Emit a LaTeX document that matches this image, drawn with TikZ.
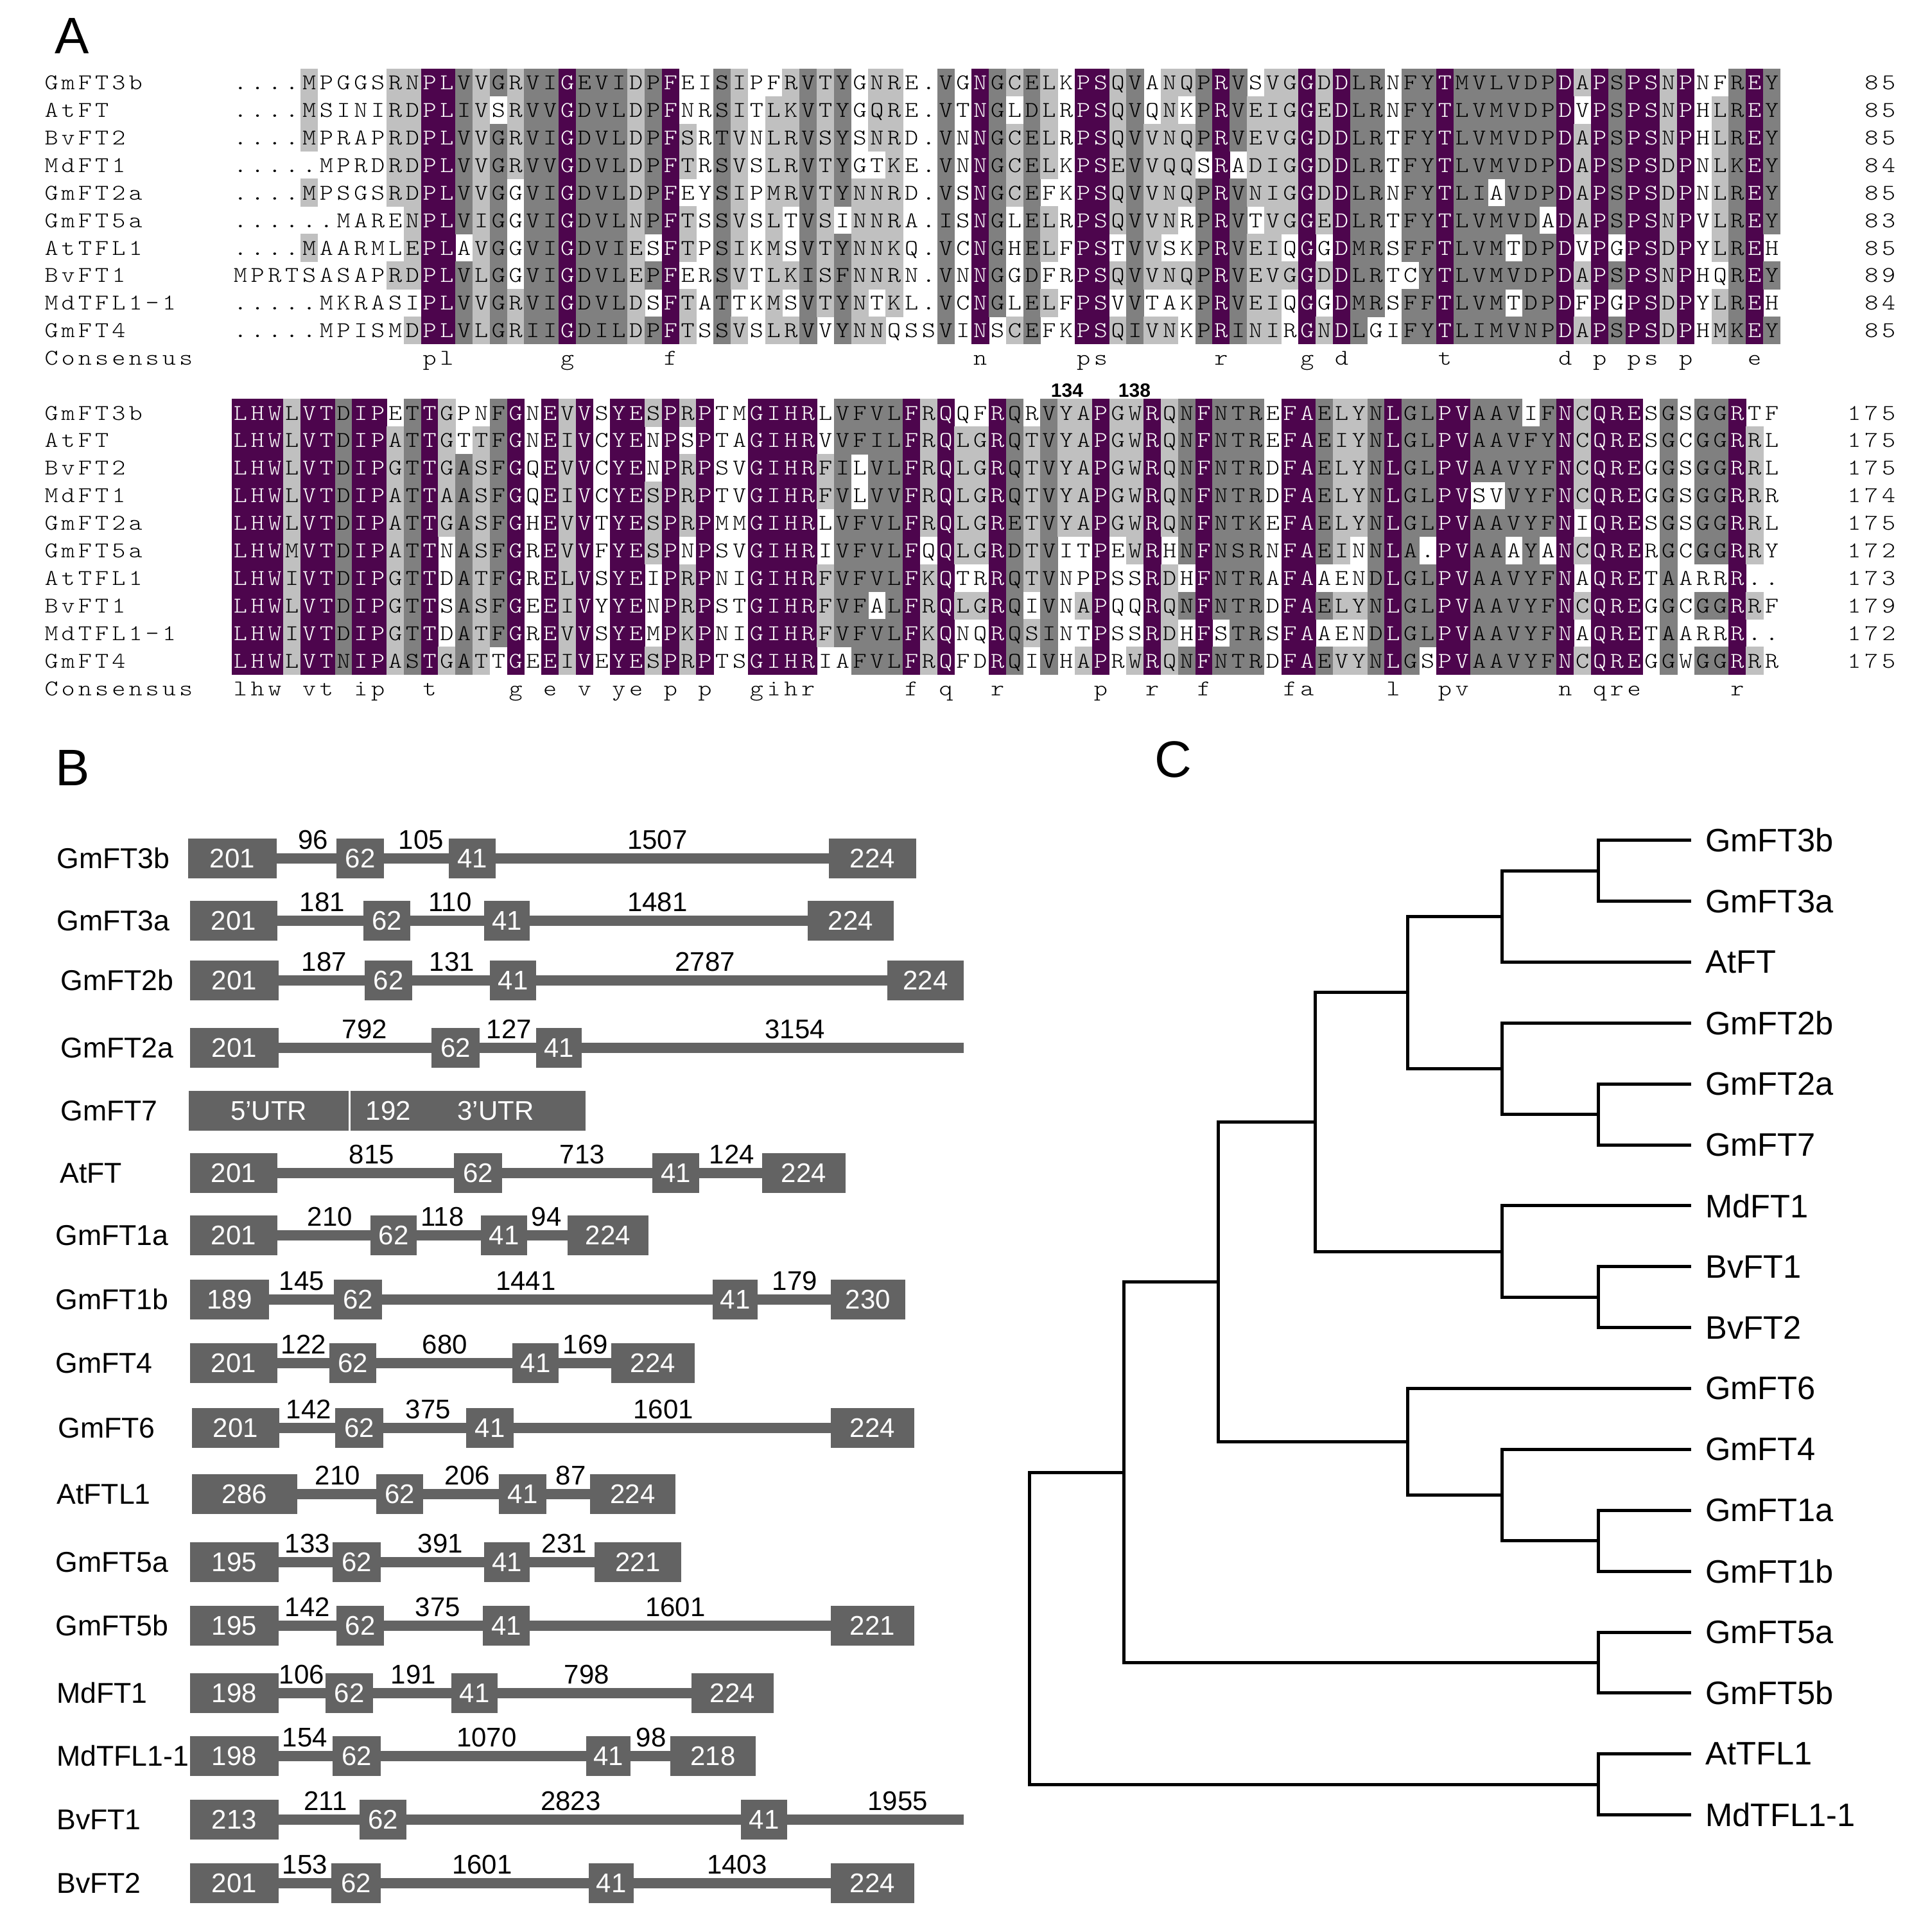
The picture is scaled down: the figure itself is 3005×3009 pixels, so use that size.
\documentclass[tikz,border=0pt]{standalone}
\usepackage{fontspec}
\setmainfont{Liberation Sans}
\newfontfamily\alfontfam{lmmonolt10-regular.otf}[FakeStretch=1.15]
\definecolor{alc3}{RGB}{77,5,77}
\definecolor{alc2}{RGB}{128,128,128}
\definecolor{alc1}{RGB}{192,192,192}
\definecolor{genegray}{RGB}{99,99,99}
\newlength\alcw \setlength\alcw{13.4pt}
\newlength\alnw \setlength\alnw{13.1pt}
\newcommand\alch[2]{\makebox[\alcw][c]{\textcolor{#1}{#2}}}
\newcommand\alcell[5]{\fill[#1] (#2,#3) rectangle ++(#4,#5);}
\tikzset{
  alseq/.style={anchor=base west, inner sep=0pt, outer sep=0pt, font=\alfontfam\fontsize{17.5}{17.5}\selectfont},
  alname/.style={alseq},
  alnum/.style={anchor=base east, inner sep=0pt, outer sep=0pt, font=\alfontfam\fontsize{17.5}{17.5}\selectfont},
  panel/.style={anchor=base west, inner sep=0pt, font=\fontsize{40}{40}\selectfont},
  posl/.style={anchor=base, inner sep=0pt, font=\bfseries\fontsize{15}{15}\selectfont},
  exon/.style={fill=genegray, inner sep=0pt, outer sep=0pt, minimum height=31pt, text=white, font=\fontsize{21}{21}\selectfont},
  glab/.style={inner sep=0pt, text=white, font=\fontsize{21}{21}\selectfont},
  intron/.style={draw=genegray, line width=8pt},
  ilab/.style={anchor=base, inner sep=0pt, yshift=7.5pt, font=\fontsize{21}{21}\selectfont},
  gname/.style={anchor=west, inner sep=0pt, font=\fontsize{22.3}{22.3}\selectfont},
  tree/.style={draw=black, line width=2.5pt},
  tname/.style={anchor=west, inner sep=0pt, font=\fontsize{25.3}{25.3}\selectfont},
}
\newcommand\exon[5]{\node[exon, minimum width={(#3-#2)*0.5pt}] (#1) at ({(#2+#3)/2},#4) {#5};}
\newcommand\intron[5]{\draw[intron] (#1.east) -- (#2.west); \node[ilab] (#1lab) at (#4,#5) {#3};}

\ExplSyntaxOn
\seq_new:N \l_al_rows_seq
\int_new:N \l_al_nrows_int
\int_new:N \l_al_ncols_int
\int_new:N \l_al_col_int
\int_new:N \l_al_cnt_int
\int_new:N \l_al_best_int
\int_new:N \l_al_lev_int
\int_new:N \l_al_r_int
\tl_new:N \l_al_a_tl
\tl_new:N \l_al_b_tl
\tl_new:N \l_al_bestch_tl
\tl_new:N \l_al_bestkey_tl
\tl_new:N \l_al_cons_tl
\tl_new:N \l_al_sp_tl
\str_new:N \l_al_first_str
\bool_new:N \l_al_shade_bool
\int_step_inline:nn {12}
  {
    \str_new:c { l_al_s_#1_str }
    \tl_new:c { l_al_c_#1_tl }
    \tl_new:c { l_al_k_#1_tl }
    \tl_new:c { l_al_t_#1_tl }
  }
\cs_new:Npn \al_key:n #1
  {
    \str_case:nnF {#1}
      {
        {I}{I} {L}{I} {V}{I} {M}{I}
        {F}{F} {Y}{F} {W}{F}
        {K}{K} {R}{K} {H}{K}
        {D}{D} {E}{D} {N}{D} {Q}{D}
        {S}{S} {T}{S}
        {A}{A} {G}{A}
      }
      {#1}
  }
\cs_new_protected:Npn \al_column:nnn #1#2#3
  {
    \int_step_inline:nn { \l_al_nrows_int }
      {
        \tl_set:cx { l_al_c_##1_tl }
          { \exp_args:Nc \str_item:Nn { l_al_s_##1_str } { \int_use:N \l_al_col_int } }
        \tl_set_eq:Nc \l_al_a_tl { l_al_c_##1_tl }
        \tl_set:cx { l_al_k_##1_tl } { \exp_args:NV \al_key:n \l_al_a_tl }
      }
    \int_zero:N \l_al_best_int
    \tl_clear:N \l_al_bestch_tl
    \tl_clear:N \l_al_bestkey_tl
    \int_step_inline:nn { \l_al_nrows_int }
      {
        \tl_set_eq:Nc \l_al_a_tl { l_al_c_##1_tl }
        \str_if_eq:VnF \l_al_a_tl { . }
          {
            \int_zero:N \l_al_cnt_int
            \int_step_inline:nn { \l_al_nrows_int }
              {
                \tl_set_eq:Nc \l_al_b_tl { l_al_c_####1_tl }
                \str_if_eq:VVT \l_al_a_tl \l_al_b_tl { \int_incr:N \l_al_cnt_int }
              }
            \int_compare:nNnT { \l_al_cnt_int } > { \l_al_best_int }
              {
                \int_set_eq:NN \l_al_best_int \l_al_cnt_int
                \tl_set_eq:NN \l_al_bestch_tl \l_al_a_tl
                \tl_set_eq:Nc \l_al_bestkey_tl { l_al_k_##1_tl }
              }
          }
      }
    \int_compare:nNnTF { \l_al_best_int } = { \l_al_nrows_int }
      { \int_set:Nn \l_al_lev_int { 3 } }
      {
        \int_compare:nNnTF { \l_al_best_int } > { 7 }
          { \int_set:Nn \l_al_lev_int { 2 } }
          {
            \int_compare:nNnTF { \l_al_best_int } > { 4 }
              { \int_set:Nn \l_al_lev_int { 1 } }
              { \int_set:Nn \l_al_lev_int { 0 } }
          }
      }
    \int_step_inline:nn { \l_al_nrows_int }
      {
        \bool_set_false:N \l_al_shade_bool
        \int_compare:nNnT { \l_al_lev_int } > { 0 }
          {
            \tl_set_eq:Nc \l_al_b_tl { l_al_k_##1_tl }
            \str_if_eq:VVT \l_al_b_tl \l_al_bestkey_tl
              { \bool_set_true:N \l_al_shade_bool }
          }
        \tl_set_eq:Nc \l_al_a_tl { l_al_c_##1_tl }
        \bool_if:NTF \l_al_shade_bool
          {
            \use:e
              {
                \exp_not:N \alcell { alc \int_use:N \l_al_lev_int }
                  { \fp_eval:n { #1 + ( \int_use:N \l_al_col_int - 1 ) * 26.8 - 0.3 } }
                  { \fp_eval:n { #2 - #3 / 2 + ( ##1 - 1 ) * #3 - 0.3 } }
                  { 27.4 } { \fp_eval:n { #3 + 0.6 } }
              }
            \int_compare:nNnTF { \l_al_lev_int } = { 3 }
              { \tl_put_right:cx { l_al_t_##1_tl } { \exp_not:N \alch { white } { \exp_not:V \l_al_a_tl } } }
              { \tl_put_right:cx { l_al_t_##1_tl } { \exp_not:N \alch { black } { \exp_not:V \l_al_a_tl } } }
          }
          {
            \tl_put_right:cx { l_al_t_##1_tl } { \exp_not:N \alch { black } { \exp_not:V \l_al_a_tl } }
          }
      }
    \int_compare:nNnTF { \l_al_lev_int } = { 3 }
      {
        \tl_put_right:Nx \l_al_cons_tl
          { \exp_not:N \alch { black } { \str_lowercase:f { \l_al_bestch_tl } } }
      }
      { \tl_put_right:Nn \l_al_cons_tl { \alch { black } { } } }
  }
\cs_new_protected:Npn \al_block:nnnnn #1#2#3#4#5
  {
    \seq_set_from_clist:Nn \l_al_rows_seq {#5}
    \int_set:Nn \l_al_nrows_int { \seq_count:N \l_al_rows_seq }
    \int_zero:N \l_al_r_int
    \seq_map_inline:Nn \l_al_rows_seq
      {
        \int_incr:N \l_al_r_int
        \str_set:cn { l_al_s_ \int_use:N \l_al_r_int _str } {##1}
        \tl_clear:c { l_al_t_ \int_use:N \l_al_r_int _tl }
      }
    \str_set:Nx \l_al_first_str { \seq_item:Nn \l_al_rows_seq {1} }
    \int_set:Nn \l_al_ncols_int { \str_count:N \l_al_first_str }
    \tl_clear:N \l_al_cons_tl
    \int_step_inline:nn { \l_al_ncols_int }
      {
        \int_set:Nn \l_al_col_int {##1}
        \al_column:nnn {#2} {#3} {#4}
      }
    \int_step_inline:nn { \l_al_nrows_int }
      {
        \use:e
          {
            \exp_not:N \node [ alseq ] ( #1r##1 ) at
              ( #2 , \fp_eval:n { #3 + ( ##1 - 1 ) * #4 + 11 } )
              { \exp_not:v { l_al_t_##1_tl } } ;
          }
      }
    \use:e
      {
        \exp_not:N \node [ alseq ] ( #1cons ) at
          ( #2 , \fp_eval:n { #3 + \int_use:N \l_al_nrows_int * #4 + 11 } )
          { \exp_not:V \l_al_cons_tl } ;
      }
  }
\NewDocumentCommand \AlBlock { m m m m m } { \al_block:nnnnn {#1} {#2} {#3} {#4} {#5} }
\NewDocumentCommand \AlSpaced { m m }
  {
    \tl_set:Nx \l_al_sp_tl {#2}
    \tl_map_inline:Nn \l_al_sp_tl { \makebox [#1] [c] {##1} }
  }
\ExplSyntaxOff

\begin{document}
\begin{tikzpicture}[x=0.5pt,y=-0.5pt]
\useasboundingbox (0,0) rectangle (3005,3009);
\fill[white] (0,0) rectangle (3005,3009);

% ---------------- Panel A ----------------
\node[panel] (pA) at (85,83) {A};
\AlBlock{A}{361}{128.6}{42.9}{
....MPGGSRNPLVVGRVIGEVIDPFEISIPFRVTYGNRE.VGNGCELKPSQVANQPRVSVGGDDLRNFYTMVLVDPDAPSPSNPNFREY,
....MSINIRDPLIVSRVVGDVLDPFNRSITLKVTYGQRE.VTNGLDLRPSQVQNKPRVEIGGEDLRNFYTLVMVDPDVPSPSNPHLREY,
....MPRAPRDPLVVGRVIGDVLDPFSRTVNLRVSYSNRD.VNNGCELRPSQVVNQPRVEVGGDDLRTFYTLVMVDPDAPSPSNPHLREY,
.....MPRDRDPLVVGRVVGDVLDPFTRSVSLRVTYGTKE.VNNGCELKPSEVVQQSRADIGGDDLRTFYTLVMVDPDAPSPSDPNLKEY,
....MPSGSRDPLVVGGVIGDVLDPFEYSIPMRVTYNNRD.VSNGCEFKPSQVVNQPRVNIGGDDLRNFYTLIAVDPDAPSPSDPNLREY,
......MARENPLVIGGVIGDVLNPFTSSVSLTVSINNRA.ISNGLELRPSQVVNRPRVTVGGEDLRTFYTLVMVDADAPSPSNPVLREY,
....MAARMLEPLAVGGVIGDVIESFTPSIKMSVTYNNKQ.VCNGHELFPSTVVSKPRVEIQGGDMRSFFTLVMTDPDVPGPSDPYLREH,
MPRTSASAPRDPLVLGGVIGDVLEPFERSVTLKISFNNRN.VNNGGDFRPSQVVNQPRVEVGGDDLRTCYTLVMVDPDAPSPSNPHQREY,
.....MKRASIPLVVGRVIGDVLDSFTATTKMSVTYNTKL.VCNGLELFPSVVTAKPRVEIQGGDMRSFFTLVMTDPDFPGPSDPYLREH,
.....MPISMDPLVLGRIIGDILDPFTSSVSLRVVYNNQSSVINSCEFKPSQIVNKPRINIRGNDLGIFYTLIMVNPDAPSPSDPHMKEY}
\AlBlock{B}{361}{643}{42.9}{
LHWLVTDIPETTGPNFGNEVVSYESPRPTMGIHRLVFVLFRQQFRQRVYAPGWRQNFNTREFAELYNLGLPVAAVIFNCQRESGSGGRTF,
LHWLVTDIPATTGTTFGNEIVCYENPSPTAGIHRVVFILFRQLGRQTVYAPGWRQNFNTREFAEIYNLGLPVAAVFYNCQRESGCGGRRL,
LHWLVTDIPGTTGASFGQEVVCYENPRPSVGIHRFILVLFRQLGRQTVYAPGWRQNFNTRDFAELYNLGLPVAAVYFNCQREGGSGGRRL,
LHWLVTDIPATTAASFGQEIVCYESPRPTVGIHRFVLVVFRQLGRQTVYAPGWRQNFNTRDFAELYNLGLPVSVVYFNCQREGGSGGRRR,
LHWLVTDIPATTGASFGHEVVTYESPRPMMGIHRLVFVLFRQLGRETVYAPGWRQNFNTKEFAELYNLGLPVAAVYFNIQRESGSGGRRL,
LHWMVTDIPATTNASFGREVVFYESPNPSVGIHRIVFVLFQQLGRDTVITPEWRHNFNSRNFAEINNLA.PVAAAYANCQRERGCGGRRY,
LHWIVTDIPGTTDATFGRELVSYEIPRPNIGIHRFVFVLFKQTRRQTVNPPSSRDHFNTRAFAAENDLGLPVAAVYFNAQRETAARRR..,
LHWLVTDIPGTTSASFGEEIVYYENPRPSTGIHRFVFALFRQLGRQIVNAPQQRQNFNTRDFAELYNLGLPVAAVYFNCQREGGCGGRRF,
LHWIVTDIPGTTDATFGREVVSYEMPKPNIGIHRFVFVLFKQNQRQSINTPSSRDHFSTRSFAAENDLGLPVAAVYFNAQRETAARRR..,
LHWLVTNIPASTGATTGEEIVEYESPRPTSGIHRIAFVLFRQFDRQIVHAPRWRQNFNTRDFAEVYNLGSPVAAVYFNCQREGGWGGRRR}
\foreach \nm [count=\i] in {GmFT3b,AtFT,BvFT2,MdFT1,GmFT2a,GmFT5a,AtTFL1,BvFT1,MdTFL1-1,GmFT4,Consensus}{
  \node[alname] (Aname\i) at (67,{139.6+(\i-1)*42.9}) {\AlSpaced{\alnw}{\nm}};
  \node[alname] (Bname\i) at (67,{654+(\i-1)*42.9}) {\AlSpaced{\alnw}{\nm}};
}
\foreach \v [count=\i] in {85,85,85,84,85,83,85,89,84,85}{
  \node[alnum] (Anum\i) at (2955,{139.6+(\i-1)*42.9}) {\AlSpaced{\alcw}{\v}};
}
\foreach \v [count=\i] in {175,175,175,174,175,172,173,179,172,175}{
  \node[alnum] (Bnum\i) at (2955,{654+(\i-1)*42.9}) {\AlSpaced{\alcw}{\v}};
}
\node[posl] (p134) at (1662,618) {134};
\node[posl] (p138) at (1767,618) {138};

% ---------------- Panel B ----------------
\node[panel] (pB) at (86,1223) {B};
% GmFT3b
\node[gname] (gn1) at (88,1337) {GmFT3b};
\exon{ga1}{293}{431}{1337}{201}\exon{ga2}{524}{598}{1337}{62}\exon{ga3}{699}{772}{1337}{41}\exon{ga4}{1291}{1427}{1337}{224}
\intron{ga1}{ga2}{96}{488}{1337}\intron{ga2}{ga3}{105}{656}{1337}\intron{ga3}{ga4}{1507}{1024}{1337}
% GmFT3a
\node[gname] (gn2) at (88,1434) {GmFT3a};
\exon{gb1}{296}{432}{1434}{201}\exon{gb2}{566}{639}{1434}{62}\exon{gb3}{754}{825}{1434}{41}\exon{gb4}{1258}{1392}{1434}{224}
\intron{gb1}{gb2}{181}{502}{1434}\intron{gb2}{gb3}{110}{701}{1434}\intron{gb3}{gb4}{1481}{1024}{1434}
% GmFT2b
\node[gname] (gn3) at (94,1527) {GmFT2b};
\exon{gc1}{296}{434}{1527}{201}\exon{gc2}{568}{642}{1527}{62}\exon{gc3}{763}{835}{1527}{41}\exon{gc4}{1382}{1501}{1527}{224}
\intron{gc1}{gc2}{187}{505}{1527}\intron{gc2}{gc3}{131}{704}{1527}\intron{gc3}{gc4}{2787}{1098}{1527}
% GmFT2a
\node[gname] (gn4) at (94,1632) {GmFT2a};
\exon{gd1}{296}{434}{1632}{201}\exon{gd2}{672}{747}{1632}{62}\exon{gd3}{835}{906}{1632}{41}
\node[inner sep=0pt, outer sep=0pt, minimum size=0pt] (gd4) at (1501,1632) {};
\intron{gd1}{gd2}{792}{568}{1632}\intron{gd2}{gd3}{127}{793}{1632}\intron{gd3}{gd4}{3154}{1238}{1632}
% GmFT7
\node[gname] (gn5) at (94,1730) {GmFT7};
\exon{ge1}{294}{543}{1730}{5'UTR}\exon{ge2}{546}{912}{1730}{}
\node[glab] (ge2a) at (605,1730) {192};
\node[glab] (ge2b) at (772,1730) {3'UTR};
% AtFT
\node[gname] (gn6) at (93,1827) {AtFT};
\exon{gf1}{296}{432}{1827}{201}\exon{gf2}{707}{782}{1827}{62}\exon{gf3}{1016}{1089}{1827}{41}\exon{gf4}{1187}{1317}{1827}{224}
\intron{gf1}{gf2}{815}{579}{1827}\intron{gf2}{gf3}{713}{907}{1827}\intron{gf3}{gf4}{124}{1140}{1827}
% GmFT1a
\node[gname] (gn7) at (86,1924) {GmFT1a};
\exon{gg1}{296}{432}{1924}{201}\exon{gg2}{577}{649}{1924}{62}\exon{gg3}{749}{821}{1924}{41}\exon{gg4}{884}{1010}{1924}{224}
\intron{gg1}{gg2}{210}{514}{1924}\intron{gg2}{gg3}{118}{689}{1924}\intron{gg3}{gg4}{94}{851}{1924}
% GmFT1b
\node[gname] (gn8) at (86,2024) {GmFT1b};
\exon{gh1}{296}{419}{2024}{189}\exon{gh2}{520}{595}{2024}{62}\exon{gh3}{1110}{1180}{2024}{41}\exon{gh4}{1294}{1410}{2024}{230}
\intron{gh1}{gh2}{145}{470}{2024}\intron{gh2}{gh3}{1441}{819}{2024}\intron{gh3}{gh4}{179}{1238}{2024}
% GmFT4
\node[gname] (gn9) at (86,2123) {GmFT4};
\exon{gi1}{296}{432}{2123}{201}\exon{gi2}{513}{586}{2123}{62}\exon{gi3}{798}{870}{2123}{41}\exon{gi4}{952}{1082}{2123}{224}
\intron{gi1}{gi2}{122}{473}{2123}\intron{gi2}{gi3}{680}{693}{2123}\intron{gi3}{gi4}{169}{912}{2123}
% GmFT6
\node[gname] (gn10) at (90,2224) {GmFT6};
\exon{gj1}{299}{435}{2224}{201}\exon{gj2}{522}{597}{2224}{62}\exon{gj3}{726}{800}{2224}{41}\exon{gj4}{1294}{1424}{2224}{224}
\intron{gj1}{gj2}{142}{481}{2224}\intron{gj2}{gj3}{375}{667}{2224}\intron{gj3}{gj4}{1601}{1033}{2224}
% AtFTL1
\node[gname] (gn11) at (88,2327) {AtFTL1};
\exon{gk1}{299}{463}{2327}{286}\exon{gk2}{586}{659}{2327}{62}\exon{gk3}{777}{851}{2327}{41}\exon{gk4}{919}{1052}{2327}{224}
\intron{gk1}{gk2}{210}{526}{2327}\intron{gk2}{gk3}{206}{728}{2327}\intron{gk3}{gk4}{87}{889}{2327}
% GmFT5a
\node[gname] (gn12) at (86,2433) {GmFT5a};
\exon{gl1}{296}{434}{2433}{195}\exon{gl2}{518}{593}{2433}{62}\exon{gl3}{754}{825}{2433}{41}\exon{gl4}{926}{1061}{2433}{221}
\intron{gl1}{gl2}{133}{479}{2433}\intron{gl2}{gl3}{391}{686}{2433}\intron{gl3}{gl4}{231}{879}{2433}
% GmFT5b
\node[gname] (gn13) at (86,2532) {GmFT5b};
\exon{gm1}{296}{434}{2532}{195}\exon{gm2}{524}{598}{2532}{62}\exon{gm3}{752}{825}{2532}{41}\exon{gm4}{1294}{1424}{2532}{221}
\intron{gm1}{gm2}{142}{479}{2532}\intron{gm2}{gm3}{375}{682}{2532}\intron{gm3}{gm4}{1601}{1052}{2532}
% MdFT1
\node[gname] (gn14) at (88,2637) {MdFT1};
\exon{gn1e}{296}{434}{2637}{198}\exon{gn2e}{507}{581}{2637}{62}\exon{gn3e}{703}{775}{2637}{41}\exon{gn4e}{1077}{1205}{2637}{224}
\intron{gn1e}{gn2e}{106}{470}{2637}\intron{gn2e}{gn3e}{191}{644}{2637}\intron{gn3e}{gn4e}{798}{914}{2637}
% MdTFL1-1
\node[gname] (gn15) at (88,2735) {MdTFL1-1};
\exon{go1}{296}{434}{2735}{198}\exon{go2}{518}{593}{2735}{62}\exon{go3}{913}{982}{2735}{41}\exon{go4}{1044}{1177}{2735}{218}
\intron{go1}{go2}{154}{475}{2735}\intron{go2}{go3}{1070}{758}{2735}\intron{go3}{go4}{98}{1014}{2735}
% BvFT1
\node[gname] (gn16) at (88,2834) {BvFT1};
\exon{gp1}{296}{434}{2834}{213}\exon{gp2}{560}{633}{2834}{62}\exon{gp3}{1154}{1226}{2834}{41}
\node[inner sep=0pt, outer sep=0pt, minimum size=0pt] (gp4) at (1501,2834) {};
\intron{gp1}{gp2}{211}{507}{2834}\intron{gp2}{gp3}{2823}{889}{2834}\intron{gp3}{gp4}{1955}{1398}{2834}
% BvFT2
\node[gname] (gn17) at (88,2933) {BvFT2};
\exon{gq1}{296}{434}{2933}{201}\exon{gq2}{516}{593}{2933}{62}\exon{gq3}{917}{987}{2933}{41}\exon{gq4}{1294}{1424}{2933}{224}
\intron{gq1}{gq2}{153}{475}{2933}\intron{gq2}{gq3}{1601}{751}{2933}\intron{gq3}{gq4}{1403}{1148}{2933}

% ---------------- Panel C ----------------
\node[panel] (pC) at (1798,1210) {C};
\foreach \nm [count=\i] in {GmFT3b,GmFT3a,AtFT,GmFT2b,GmFT2a,GmFT7,MdFT1,BvFT1,BvFT2,GmFT6,GmFT4,GmFT1a,GmFT1b,GmFT5a,GmFT5b,AtTFL1,MdTFL1-1}{
  \coordinate (tL\i) at (2634,{1308.7+(\i-1)*94.87});
  \node[tname] (tN\i) at (2656,{1308.7+(\i-1)*94.87}) {\nm};
}
\coordinate (n12) at (2489,1356.2);
\coordinate (n123) at (2339,1427.3);
\coordinate (n56) at (2489,1735.7);
\coordinate (n456) at (2339,1664.5);
\coordinate (nA) at (2192,1545.9);
\coordinate (n89) at (2489,2020.3);
\coordinate (n789) at (2339,1949.1);
\coordinate (nB) at (2048,1747.5);
\coordinate (n1213) at (2489,2399.7);
\coordinate (n111213) at (2339,2328.6);
\coordinate (nC) at (2192,2245.5);
\coordinate (nD) at (1897,1996.5);
\coordinate (n1415) at (2489,2589.5);
\coordinate (nE) at (1750,2293);
\coordinate (n1617) at (2489,2779.2);
\coordinate (nR) at (1603,2536.1);
\draw[tree] (n12) |- (tL1); \draw[tree] (n12) |- (tL2);
\draw[tree] (n123) |- (n12); \draw[tree] (n123) |- (tL3);
\draw[tree] (n56) |- (tL5); \draw[tree] (n56) |- (tL6);
\draw[tree] (n456) |- (tL4); \draw[tree] (n456) |- (n56);
\draw[tree] (nA) |- (n123); \draw[tree] (nA) |- (n456);
\draw[tree] (n89) |- (tL8); \draw[tree] (n89) |- (tL9);
\draw[tree] (n789) |- (tL7); \draw[tree] (n789) |- (n89);
\draw[tree] (nB) |- (nA); \draw[tree] (nB) |- (n789);
\draw[tree] (n1213) |- (tL12); \draw[tree] (n1213) |- (tL13);
\draw[tree] (n111213) |- (tL11); \draw[tree] (n111213) |- (n1213);
\draw[tree] (nC) |- (tL10); \draw[tree] (nC) |- (n111213);
\draw[tree] (nD) |- (nB); \draw[tree] (nD) |- (nC);
\draw[tree] (n1415) |- (tL14); \draw[tree] (n1415) |- (tL15);
\draw[tree] (nE) |- (nD); \draw[tree] (nE) |- (n1415);
\draw[tree] (n1617) |- (tL16); \draw[tree] (n1617) |- (tL17);
\draw[tree] (nR) |- (nE); \draw[tree] (nR) |- (n1617);
\end{tikzpicture}
\end{document}
